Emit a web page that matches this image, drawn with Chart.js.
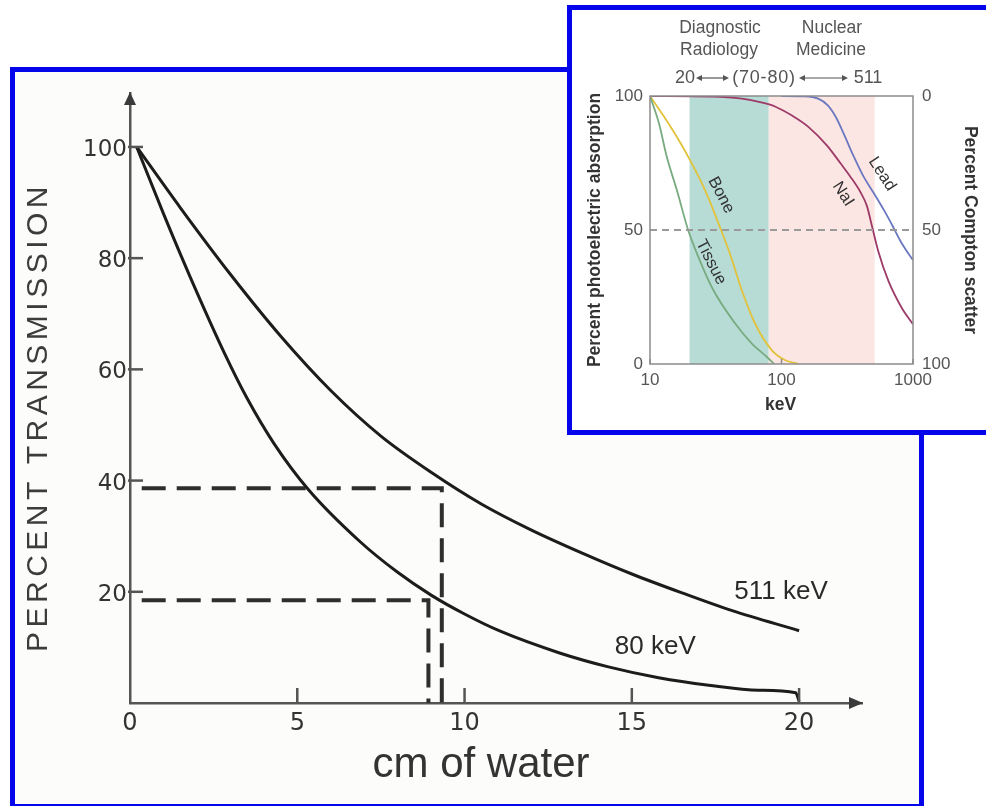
<!DOCTYPE html>
<html><head><meta charset="utf-8">
<script src="https://cdn.jsdelivr.net/npm/chart.js@4.4.1/dist/chart.umd.min.js"></script>
<style>
html,body{margin:0;padding:0;width:986px;height:806px;overflow:hidden;background:#fff;}
#mainBox{position:absolute;left:10px;top:67px;width:914px;height:742px;border:5px solid #0505ec;box-sizing:border-box;background:#fcfcfa;z-index:0;}
#mainCanvas{position:absolute;left:0;top:0;z-index:1;}
#insetBox{position:absolute;left:567px;top:5px;width:440px;height:430px;border:5px solid #0505ec;box-sizing:border-box;background:#fff;z-index:2;}
#insetCanvas{position:absolute;left:572px;top:10px;z-index:3;}
</style></head>
<body>
<div id="mainBox"></div>
<canvas id="mainCanvas" width="986" height="806" style="width:986px;height:806px"></canvas>
<div id="insetBox"></div>
<canvas id="insetCanvas" width="414" height="420" style="width:414px;height:420px"></canvas>
<script>
// ---------- Main chart: percent transmission vs cm of water ----------
const waterCm511 = [0.2, 1.5, 3, 4.5, 6, 7.5, 9, 10.5, 12, 13.5, 15, 16.5, 18, 20];
const transmission511 = [100, 89.1, 77.1, 66.0, 56.2, 48.0, 41.5, 35.8, 31.1, 27.0, 23.2, 19.8, 16.6, 13];
const waterCm80 = [0.2, 1.0, 1.8, 2.84, 3.5, 4.3, 5.33, 6.88, 8, 9, 10, 11.05, 12.84, 14.3, 15.8, 17.3, 18.8, 19.9, 20];
const transmission80 = [100, 88, 76.6, 62.7, 54.8, 46.7, 38.4, 29.0, 23.5, 19.4, 16.0, 12.95, 9.0, 6.5, 4.55, 3.2, 2.3, 1.86, 0.3];
const guide511Cm = [0.35, 9.32, 9.32];
const guide511Pct = [38.6, 38.6, 0];
const guide80Cm = [0.35, 8.92, 8.92];
const guide80Pct = [18.5, 18.5, 0];
const mainXTicks = [0, 5, 10, 15, 20];
const mainYTicks = [20, 40, 60, 80, 100];
const mainXTitle = 'cm of water';
const mainYTitle = 'PERCENT TRANSMISSION';
const curveNames = ['511 keV', '80 keV'];
const curveLabelCm = [19.46, 15.7];
const curveLabelPct = [20, 10.1];

// ---------- Inset chart: photoelectric absorption vs keV ----------
const tissueKeV = [10, 11.7, 13.4, 16, 19.5, 23.3, 30.3, 44.3, 59.3, 77.1, 88];
const tissuePct = [100, 89.8, 77.4, 64.9, 50, 40, 27.6, 15.2, 7.7, 2.7, 0];
const boneKeV = [10, 13.8, 19.5, 26.2, 34.7, 41.3, 49.8, 62.8, 84.2, 106, 135];
const bonePct = [100, 89.8, 77.4, 64.9, 50, 40, 27.6, 15.2, 5.2, 1.5, 0];
const naiKeV = [10, 30, 50, 70, 90, 122, 160, 222, 280, 333, 400, 446, 490, 545, 650, 820, 1000];
const naiPct = [100, 99.8, 99, 97.6, 96, 92.5, 88.5, 81.5, 75, 70, 64, 59, 51, 42, 31, 21, 14.8];
const leadKeV = [100, 150, 190, 225, 260, 300, 350, 420, 500, 600, 700, 800, 900, 1000];
const leadPct = [100, 99.9, 99, 96.5, 92, 85.5, 78, 70, 64, 57.5, 51.5, 46, 42, 38.8];
const halfLineKeV = [10, 1000];
const halfLinePct = [50, 50];
const bandStartKeV = [20, 80];
const bandEndKeV = [80, 511];
const insetXTicks = [10, 100, 1000];
const insetYTicks = [0, 50, 100];
const materialNames = ['Tissue', 'Bone', 'NaI', 'Lead'];
const materialLabelKeV = [29.1, 34.7, 294, 581];
const materialLabelPct = [38, 63, 63.4, 70.9];

const pts = (xs, ys) => xs.map((v, i) => ({ x: v, y: ys[i] }));

// ---------- main chart ----------
const mainDecor = {
  id: 'mainDecor',
  afterDraw(chart) {
    const { ctx, chartArea: ca, scales: { x, y } } = chart;
    ctx.save();
    ctx.strokeStyle = '#555'; ctx.lineWidth = 2.5;
    mainYTicks.forEach(v => { const py = y.getPixelForValue(v); ctx.beginPath(); ctx.moveTo(ca.left - 2, py); ctx.lineTo(ca.left + 13, py); ctx.stroke(); });
    mainXTicks.filter(v => v > 0).forEach(v => { const px = x.getPixelForValue(v); ctx.beginPath(); ctx.moveTo(px, ca.bottom); ctx.lineTo(px, ca.bottom - 15); ctx.stroke(); });
    ctx.fillStyle = '#3a3a3a';
    ctx.beginPath(); ctx.moveTo(ca.left, ca.top - 1); ctx.lineTo(ca.left - 6, ca.top + 12); ctx.lineTo(ca.left + 6, ca.top + 12); ctx.closePath(); ctx.fill();
    ctx.beginPath(); ctx.moveTo(ca.right + 1, ca.bottom); ctx.lineTo(ca.right - 13, ca.bottom - 6); ctx.lineTo(ca.right - 13, ca.bottom + 6); ctx.closePath(); ctx.fill();
    // y title
    ctx.save();
    ctx.translate(39, 417); ctx.rotate(-Math.PI / 2);
    ctx.font = '30px "Liberation Sans"'; ctx.letterSpacing = '4.5px';
    ctx.textAlign = 'center'; ctx.textBaseline = 'middle'; ctx.fillStyle = '#3c3c3c';
    ctx.fillText(mainYTitle, 0, 0);
    ctx.restore();
    // x title
    ctx.font = '42px "Liberation Sans"'; ctx.textAlign = 'center'; ctx.textBaseline = 'alphabetic'; ctx.fillStyle = '#333';
    ctx.fillText(mainXTitle, 481, 777);
    // curve labels
    ctx.font = '26px "Liberation Sans"'; ctx.textBaseline = 'middle'; ctx.fillStyle = '#2a2a2a';
    curveNames.forEach((t, i) => ctx.fillText(t, x.getPixelForValue(curveLabelCm[i]), y.getPixelForValue(curveLabelPct[i])));
    ctx.restore();
  }
};

new Chart(document.getElementById('mainCanvas'), {
  type: 'scatter',
  data: {
    datasets: [
      { label: curveNames[0], data: pts(waterCm511, transmission511), showLine: true, borderColor: '#1c1c1c', borderWidth: 3, pointRadius: 0, cubicInterpolationMode: 'monotone' },
      { label: curveNames[1], data: pts(waterCm80, transmission80), showLine: true, borderColor: '#1c1c1c', borderWidth: 3, pointRadius: 0, cubicInterpolationMode: 'monotone' },
      { label: 'guide 511', data: pts(guide511Cm, guide511Pct), showLine: true, borderColor: '#2e2e2e', borderWidth: 4, borderDash: [24, 11], pointRadius: 0, borderJoinStyle: 'miter' },
      { label: 'guide 80', data: pts(guide80Cm, guide80Pct), showLine: true, borderColor: '#2e2e2e', borderWidth: 4, borderDash: [24, 11], pointRadius: 0, borderJoinStyle: 'miter' }
    ]
  },
  options: {
    responsive: false, animation: false,
    layout: { padding: { left: 0, top: 93, right: 124, bottom: 0 } },
    plugins: { legend: { display: false }, tooltip: { enabled: false } },
    scales: {
      x: {
        type: 'linear', min: 0, max: 21.88,
        afterBuildTicks: s => { s.ticks = mainXTicks.map(v => ({ value: v })); },
        afterFit: s => { s.height = 103; },
        grid: { display: false, drawTicks: false },
        border: { display: true, color: '#555', width: 2.5 },
        ticks: { padding: 6, color: '#333', font: { family: 'DejaVu Sans', size: 24 }, maxRotation: 0, autoSkip: false }
      },
      y: {
        type: 'linear', min: 0, max: 109.7,
        afterBuildTicks: s => { s.ticks = mainYTicks.map(v => ({ value: v })); },
        afterFit: s => { s.width = 130; },
        grid: { display: false, drawTicks: false },
        border: { display: true, color: '#555', width: 2.5 },
        ticks: { padding: 3, labelOffset: 3, color: '#333', font: { family: 'DejaVu Sans', size: 23 }, autoSkip: false }
      }
    }
  },
  plugins: [mainDecor]
});

// ---------- inset chart ----------
function dblArrow(ctx, x0, x1, yy) {
  ctx.beginPath(); ctx.moveTo(x0 + 4, yy); ctx.lineTo(x1 - 4, yy); ctx.stroke();
  ctx.beginPath(); ctx.moveTo(x0, yy); ctx.lineTo(x0 + 6, yy - 3); ctx.lineTo(x0 + 6, yy + 3); ctx.closePath(); ctx.fill();
  ctx.beginPath(); ctx.moveTo(x1, yy); ctx.lineTo(x1 - 6, yy - 3); ctx.lineTo(x1 - 6, yy + 3); ctx.closePath(); ctx.fill();
}

const insetDecor = {
  id: 'insetDecor',
  beforeDatasetsDraw(chart) {
    const { ctx, chartArea: ca, scales: { x } } = chart;
    const bandColors = ['#b7dcd6', '#fce6e3'];
    ctx.save();
    bandStartKeV.forEach((s, i) => {
      const x0 = x.getPixelForValue(s), x1 = x.getPixelForValue(bandEndKeV[i]);
      ctx.fillStyle = bandColors[i]; ctx.fillRect(x0, ca.top, x1 - x0, ca.bottom - ca.top);
    });
    ctx.restore();
  },
  afterDraw(chart) {
    const { ctx, chartArea: ca, scales: { x, y } } = chart;
    ctx.save();
    ctx.strokeStyle = '#8c8c8c'; ctx.lineWidth = 1.5;
    ctx.strokeRect(ca.left, ca.top, ca.right - ca.left, ca.bottom - ca.top);
    insetXTicks.forEach(v => { const px = x.getPixelForValue(v); ctx.beginPath(); ctx.moveTo(px, ca.bottom); ctx.lineTo(px, ca.bottom - 5); ctx.stroke(); });
    // axis titles
    ctx.fillStyle = '#333'; ctx.font = 'bold 17.5px "Liberation Sans"'; ctx.textAlign = 'center'; ctx.textBaseline = 'middle';
    ctx.save(); ctx.translate(ca.left - 55, (ca.top + ca.bottom) / 2); ctx.rotate(-Math.PI / 2);
    ctx.fillText('Percent photoelectric absorption', 0, 0); ctx.restore();
    ctx.save(); ctx.translate(ca.right + 57, (ca.top + ca.bottom) / 2); ctx.rotate(Math.PI / 2);
    ctx.fillText('Percent Compton scatter', 0, 0); ctx.restore();
    ctx.fillText('keV', x.getPixelForValue(100) - 1, ca.bottom + 41);
    // top annotations
    ctx.fillStyle = '#555'; ctx.font = '17.5px "Liberation Sans"';
    ctx.fillText('Diagnostic', ca.left + 70, ca.top - 68);
    ctx.fillText('Radiology', ca.left + 69, ca.top - 46);
    ctx.fillText('Nuclear', ca.left + 182, ca.top - 68);
    ctx.fillText('Medicine', ca.left + 181, ca.top - 46);
    const ry = ca.top - 18;
    ctx.font = '18px "Liberation Sans"';
    ctx.fillText('20', ca.left + 35, ry);
    ctx.fillText('511', ca.left + 218, ry);
    ctx.save(); ctx.letterSpacing = '0.8px';
    ctx.fillText('(70-80)', ca.left + 114, ry);
    ctx.restore();
    ctx.strokeStyle = '#555'; ctx.lineWidth = 1.2;
    dblArrow(ctx, ca.left + 46, ca.left + 79, ry);
    dblArrow(ctx, ca.left + 149, ca.left + 198, ry);
    // curve labels
    ctx.fillStyle = '#333'; ctx.font = '16.5px "Liberation Sans"';
    const angles = [63, 62, 57, 57];
    materialNames.forEach((t, i) => {
      ctx.save();
      ctx.translate(x.getPixelForValue(materialLabelKeV[i]), y.getPixelForValue(materialLabelPct[i]));
      ctx.rotate(angles[i] * Math.PI / 180);
      ctx.fillText(t, 0, 0);
      ctx.restore();
    });
    ctx.restore();
  }
};

const lineDs = (label, xs, ys, color) => ({ label, data: pts(xs, ys), showLine: true, borderColor: color, borderWidth: 1.8, pointRadius: 0, cubicInterpolationMode: 'monotone' });

new Chart(document.getElementById('insetCanvas'), {
  type: 'scatter',
  data: {
    datasets: [
      { label: '50%', data: pts(halfLineKeV, halfLinePct), showLine: true, borderColor: '#9a9a9a', borderWidth: 2, borderDash: [7, 5], pointRadius: 0 },
      lineDs(materialNames[0], tissueKeV, tissuePct, '#78ab80'),
      lineDs(materialNames[1], boneKeV, bonePct, '#e2c23a'),
      lineDs(materialNames[2], naiKeV, naiPct, '#9c3a68'),
      lineDs(materialNames[3], leadKeV, leadPct, '#6a78c0')
    ]
  },
  options: {
    responsive: false, animation: false,
    layout: { padding: { left: 0, top: 86, right: 0, bottom: 0 } },
    plugins: { legend: { display: false }, tooltip: { enabled: false } },
    scales: {
      x: {
        type: 'logarithmic', min: 10, max: 1000,
        afterBuildTicks: s => { s.ticks = insetXTicks.map(v => ({ value: v })); },
        afterFit: s => { s.height = 66; },
        grid: { display: false, drawTicks: false }, border: { display: false },
        ticks: { padding: 6, color: '#555', font: { family: 'Liberation Sans', size: 17 }, maxRotation: 0, autoSkip: false, callback: v => String(v) }
      },
      y: {
        type: 'linear', position: 'left', min: 0, max: 100,
        afterBuildTicks: s => { s.ticks = insetYTicks.map(v => ({ value: v })); },
        afterFit: s => { s.width = 78; },
        grid: { display: false, drawTicks: false }, border: { display: false },
        ticks: { padding: 7, color: '#555', font: { family: 'Liberation Sans', size: 17 }, autoSkip: false }
      },
      y2: {
        type: 'linear', position: 'right', reverse: true, min: 0, max: 100,
        afterBuildTicks: s => { s.ticks = insetYTicks.map(v => ({ value: v })); },
        afterFit: s => { s.width = 73; },
        grid: { display: false, drawTicks: false }, border: { display: false },
        ticks: { padding: 9, color: '#555', font: { family: 'Liberation Sans', size: 17 }, autoSkip: false }
      }
    }
  },
  plugins: [insetDecor]
});
</script>
</body></html>
